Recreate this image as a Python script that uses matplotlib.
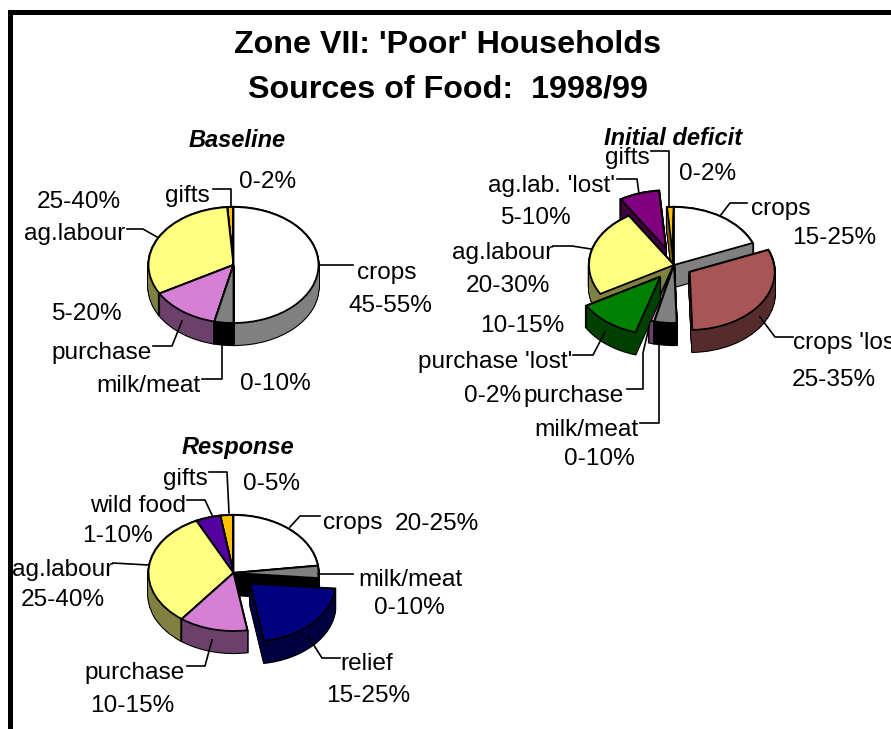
import matplotlib
matplotlib.use("Agg")
import matplotlib.pyplot as plt

plt.rcParams['font.family'] = ['Liberation Sans', 'DejaVu Sans']

W, H = 891, 729

# ---- data (percent shares) ----
baseline_names = ['crops', 'milk/meat', 'purchase', 'ag.labour', 'gifts']
baseline_values = [50.0, 3.6, 13.2, 32.0, 1.2]
baseline_explode = [0, 0, 0, 0, 0]

deficit_names = ['crops', "crops 'lost'", 'milk/meat', 'purchase', "purchase 'lost'",
                 'ag.labour', "ag.lab. 'lost'", 'gifts']
deficit_values = [18.8, 30.7, 4.2, 1.0, 12.0, 24.4, 7.6, 1.3]
deficit_explode = [0, 0.22, 0, 0, 0.26, 0, 0.30, 0]

response_names = ['crops', 'milk/meat', 'relief', 'purchase', 'ag.labour', 'wild food', 'gifts']
response_values = [23.0, 3.4, 21.0, 13.0, 32.4, 4.7, 2.5]
response_explode = [0, 0, 0.27, 0, 0, 0, 0]

# ---- styles ----
TOP = {'crops': '#FFFFFF', "crops 'lost'": '#AA5555', 'milk/meat': '#808080', 'purchase': '#D580D5',
       "purchase 'lost'": '#008000', 'ag.labour': '#FFFF80', "ag.lab. 'lost'": '#800080',
       'gifts': '#FFC000', 'relief': '#000080', 'wild food': '#5500A0'}
SIDE = {'crops': '#808080', "crops 'lost'": '#552B2B', 'milk/meat': '#000000', 'purchase': '#6B406B',
        "purchase 'lost'": '#004000', 'ag.labour': '#808040', "ag.lab. 'lost'": '#400040',
        'gifts': '#806000', 'relief': '#000040', 'wild food': '#2B0050'}

fig = plt.figure(figsize=(W / 100, H / 100), dpi=100, facecolor='white')

SPAN = 1.7


def pie3d(names, values, explode, cx, cy, rx, ry, depth, order):
    """cx, cy in pixels from top-left; one elliptical axes per pie, depth built by stacking."""
    ax = fig.add_axes([(cx - SPAN * rx) / W, 1 - (cy + SPAN * ry) / H,
                       2 * SPAN * rx / W, 2 * SPAN * ry / H])
    rank = {n: i for i, n in enumerate(order)}
    step = 1.0 / ry
    for k in range(depth, -1, -1):
        wedges, _ = ax.pie(values, explode=explode, startangle=90, counterclock=False,
                           center=(0, -k * step), radius=1.0)
        for w, n in zip(wedges, names):
            w.set_facecolor(SIDE[n])
            w.set_edgecolor('black')
            w.set_linewidth(1.6)
            w.set_zorder(rank[n] * 10 + 1)
        wedges, _ = ax.pie(values, explode=explode, startangle=90, counterclock=False,
                           center=(0, -k * step), radius=1.0)
        for w, n in zip(wedges, names):
            w.set_facecolor(SIDE[n])
            w.set_edgecolor('none')
            w.set_zorder(rank[n] * 10 + 2)
    wedges, _ = ax.pie(values, explode=explode, startangle=90, counterclock=False,
                       center=(0, 0), radius=1.0)
    for w, n in zip(wedges, names):
        w.set_facecolor(TOP[n])
        w.set_edgecolor('black')
        w.set_linewidth(1.3)
        w.set_zorder(rank[n] * 10 + 3)
    ax.set_aspect('auto')
    ax.set_xlim(-SPAN, SPAN)
    ax.set_ylim(-SPAN, SPAN)
    ax.patch.set_alpha(0)


pie3d(baseline_names, baseline_values, baseline_explode, 233.5, 265, 85, 58, 22,
      ['gifts', 'ag.labour', 'crops', 'purchase', 'milk/meat'])
pie3d(deficit_names, deficit_values, deficit_explode, 674, 265, 85, 58, 22,
      ['gifts', 'crops', "ag.lab. 'lost'", 'ag.labour', 'purchase', 'milk/meat',
       "crops 'lost'", "purchase 'lost'"])
pie3d(response_names, response_values, response_explode, 233.5, 573, 85, 58, 22,
      ['gifts', 'wild food', 'crops', 'ag.labour', 'milk/meat', 'purchase', 'relief'])

# overlay in pixel coordinates for frame, leaders and text
ov = fig.add_axes([0, 0, 1, 1], zorder=20)
ov.set_xlim(0, W)
ov.set_ylim(H, 0)
ov.axis('off')
ov.patch.set_alpha(0)

# frame
ov.plot([9.5, 9.5, W + 5], [H + 5, 11.5, 11.5], color='black', lw=3.6, solid_joinstyle='miter')

ov.text(448, 44.5, "Zone VII: 'Poor' Households", fontsize=23.2, fontweight='bold', ha='center', va='center')
ov.text(448, 89.5, "Sources of Food:  1998/99", fontsize=23.2, fontweight='bold', ha='center', va='center')

SUBTITLES = [("Baseline", 237, 140), ("Initial deficit", 673, 138), ("Response", 238, 447)]
for s, x, y in SUBTITLES:
    ov.text(x, y, s, fontsize=17, fontweight='bold', fontstyle='italic', ha='center', va='center')

LABELS = [
    ("gifts", 187, 194), ("0-2%", 268, 180), ("25-40%", 79, 200), ("ag.labour", 75, 232),
    ("crops", 387, 271), ("45-55%", 390, 304), ("5-20%", 86, 312), ("purchase", 102, 351),
    ("milk/meat", 148, 384), ("0-10%", 275, 382),
    ("gifts", 627, 156), ("0-2%", 708, 172), ("ag.lab. 'lost'", 551, 184), ("5-10%", 535, 216),
    ("ag.labour", 503, 251), ("crops", 781, 207), ("15-25%", 834, 236), ("20-30%", 508, 284),
    ("10-15%", 522, 324), ("25-35%", 834, 378), ("purchase 'lost'", 495, 360), ("0-2%", 493, 394),
    ("purchase", 574, 394), ("milk/meat", 586, 428), ("0-10%", 599, 457),
    ("gifts", 185, 477), ("0-5%", 272, 482), ("wild food", 138, 504), ("1-10%", 117, 534),
    ("ag.labour", 63, 568), ("crops", 353, 521), ("20-25%", 437, 522), ("milk/meat", 410, 578),
    ("0-10%", 409, 606), ("25-40%", 63, 598), ("purchase", 135, 671), ("10-15%", 132, 704),
    ("relief", 367, 662), ("15-25%", 368, 694),
]
for s, x, y in LABELS:
    ov.text(x, y + 2, s, fontsize=17.6, ha='center', va='center')
ov.text(793, 343, "crops 'lost'", fontsize=17.6, ha='left', va='center', clip_on=True)

LEADERS = [
    [(213, 189), (231, 189), (231, 206)],
    [(127, 229), (143, 229), (157, 237)],
    [(319, 265), (353, 265)],
    [(153, 346), (172, 346), (182, 321)],
    [(202, 379), (222, 379), (222, 343)],
    [(651, 151), (669, 151), (669, 206)],
    [(617, 179), (637, 179), (639, 194)],
    [(553, 246), (572, 246), (591, 249)],
    [(747, 203), (730, 203), (720, 216)],
    [(793, 337), (775, 337), (760, 317)],
    [(573, 355), (593, 355), (605, 332)],
    [(627, 389), (643, 389), (643, 353), (649, 327)],
    [(640, 423), (659, 423), (659, 345)],
    [(209, 472), (227, 472), (229, 513)],
    [(187, 500), (205, 500), (212, 515)],
    [(113, 563), (148, 565)],
    [(320, 516), (300, 516), (290, 527)],
    [(353, 574), (318, 574)],
    [(340, 658), (322, 658), (308, 636)],
    [(187, 666), (205, 666), (212, 640)],
]
for pts in LEADERS:
    ov.plot([p[0] for p in pts], [p[1] for p in pts], color='black', lw=1.2)

fig.savefig('out.png', dpi=100)
